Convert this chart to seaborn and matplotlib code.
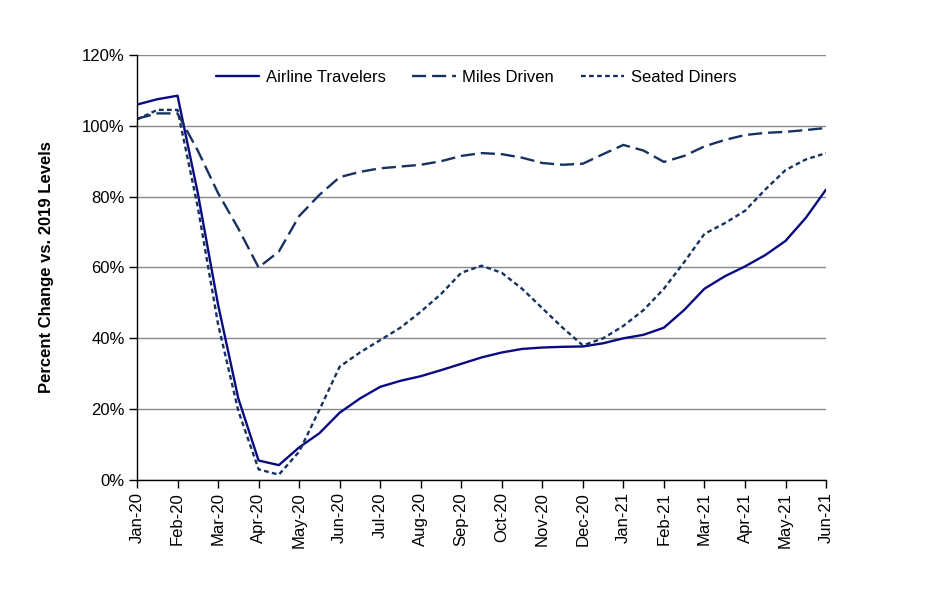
import matplotlib
matplotlib.use("Agg")
import matplotlib.pyplot as plt
import seaborn as sns
import pandas as pd
import numpy as np

# half-month steps from Jan-20 to Jun-21 (month index)
months = ["Jan-20", "Feb-20", "Mar-20", "Apr-20", "May-20", "Jun-20", "Jul-20", "Aug-20", "Sep-20",
          "Oct-20", "Nov-20", "Dec-20", "Jan-21", "Feb-21", "Mar-21", "Apr-21", "May-21", "Jun-21"]
step = [i / 2 for i in range(35)]

airline = [106, 107.5, 108.5, 81, 49.5, 23, 5.5, 4.2, 9.2, 13.2, 19, 23, 26.3, 28, 29.3, 31, 32.8, 34.6,
           36, 37, 37.4, 37.6, 37.7, 38.6, 40, 41, 43, 48, 54, 57.5, 60.3, 63.5, 67.5, 74, 82]
miles = [102, 103.5, 103.5, 93, 81, 71, 60, 64.5, 74.5, 80.5, 85.5, 87, 88, 88.5, 89, 90, 91.5, 92.3,
         92, 91, 89.5, 89, 89.3, 92, 94.6, 93, 89.8, 91.5, 94.2, 96, 97.4, 98, 98.3, 98.8, 99.4]
diners = [101.8, 104.5, 104.5, 77, 44, 19.5, 3, 1.5, 8, 19.8, 32, 36, 39.5, 43, 47.5, 52.5, 58.5, 60.5,
          58.5, 54, 48.5, 43, 38, 40, 43.5, 48, 54, 61.5, 69.5, 72.5, 76, 82, 87.5, 90.5, 92.3]

series = ["Airline Travelers", "Miles Driven", "Seated Diners"]
df = pd.DataFrame({
    "t": step * 3,
    "value": airline + miles + diners,
    "series": [series[0]] * 35 + [series[1]] * 35 + [series[2]] * 35,
})

sns.set_theme(style="white")
plt.rcParams["font.family"] = ["Liberation Sans", "DejaVu Sans"]
plt.rcParams["lines.solid_joinstyle"] = "round"
plt.rcParams["lines.dash_joinstyle"] = "round"

fig = plt.figure(figsize=(9.39, 5.95), dpi=100)
ax = fig.add_axes([0.1459, 0.1933, 0.7338, 0.7143])

palette = {series[0]: "#0a0a82", series[1]: "#17325f", series[2]: "#17325f"}
dashes = {series[0]: "", series[1]: (6, 2.5), series[2]: (2, 1.4)}
sns.lineplot(data=df, x="t", y="value", hue="series", style="series", palette=palette,
             dashes=dashes, linewidth=1.7, ax=ax)

fs = 12
ax.set_xlim(0, 17)
ax.set_ylim(0, 120)
ax.set_xticks(range(18))
ax.set_xticklabels(months, rotation=90, fontsize=fs, color="black")
ax.set_yticks(range(0, 121, 20))
ax.set_yticklabels([f"{v}%" for v in range(0, 121, 20)], fontsize=fs, color="black")
ax.tick_params(axis="both", direction="out", length=6, width=1, color="black", pad=3, bottom=True, left=True)

ax.grid(axis="y", color="#888888", linewidth=1)
ax.set_axisbelow(True)
for s in ["top", "right"]:
    ax.spines[s].set_visible(False)
for s in ["left", "bottom"]:
    ax.spines[s].set_color("black")
    ax.spines[s].set_linewidth(1)

ax.set_xlabel("")
ax.set_ylabel("Percent Change vs. 2019 Levels", fontsize=fs, fontweight="bold", labelpad=20, color="black")

leg = ax.legend(loc="upper center", bbox_to_anchor=(0.492, 1.0), ncol=3, frameon=False,
                fontsize=fs, handlelength=2.6, columnspacing=1.6, handletextpad=0.4)
leg.set_title(None)
for t in leg.get_texts():
    t.set_color("black")

fig.savefig("out.png", dpi=100)
